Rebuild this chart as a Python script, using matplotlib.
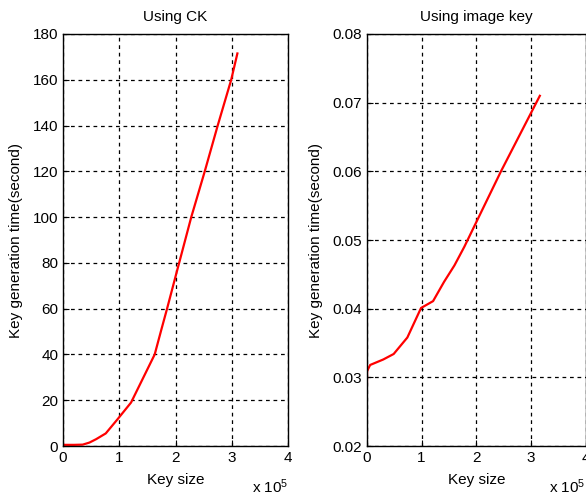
import matplotlib
matplotlib.use('Agg')
from matplotlib import pyplot as plt

matplotlib.rc('font', **{'family': 'sans-serif', 'sans-serif': ['Liberation Sans', 'DejaVu Sans']})
matplotlib.rcParams['mathtext.fontset'] = 'custom'
matplotlib.rcParams['mathtext.rm'] = 'Liberation Sans'
matplotlib.rcParams['mathtext.it'] = 'Liberation Sans'

# key size in units of 1e5
ck_size = [0, 0.05, 0.1, 0.2, 0.35, 0.47, 0.59, 0.76, 0.97, 1.21, 1.41, 1.63, 1.75, 1.85, 2.0, 2.28, 2.52, 2.75, 2.99, 3.10]
ck_time = [0.5, 0.5, 0.5, 0.5, 0.6, 1.5, 3.0, 5.5, 11.7, 19.0, 29.0, 40.0, 51.0, 60.0, 74.0, 100.0, 120.0, 140.0, 160.0, 171.5]

img_size = [0, 0.005, 0.06, 0.3, 0.49, 0.74, 0.99, 1.21, 1.41, 1.6, 1.78, 2.45, 3.16]
img_time = [0.028, 0.0309, 0.0318, 0.0326, 0.0334, 0.0358, 0.0401, 0.0411, 0.0439, 0.0463, 0.049, 0.060, 0.071]

fs = 11
fig = plt.figure(figsize=(5.86, 4.97), dpi=100)
ax1 = fig.add_axes([0.1075, 0.1026, 0.384, 0.829])
ax2 = fig.add_axes([0.626, 0.1026, 0.3737, 0.829])


def style(ax, title):
    ax.set_xlim(0, 4)
    ax.set_xticks([0, 1, 2, 3, 4])
    ax.grid(True, color='black', linestyle=(0, (3, 3)), linewidth=0.9)
    ax.tick_params(direction='in', length=4, labelsize=fs, colors='black')
    ax.set_title(title, fontsize=fs, pad=9)
    ax.set_xlabel('Key size', fontsize=fs, labelpad=6)
    ax.set_ylabel('Key generation time(second)', fontsize=fs, labelpad=7)
    for s in ax.spines.values():
        s.set_linewidth(1.0)
    ax.text(1.0, -0.075, r'x 10$^5$', transform=ax.transAxes, ha='right', va='top', fontsize=fs)


ax1.plot(ck_size, ck_time, color='red', linewidth=1.6)
ax1.set_ylim(0, 180)
ax1.set_yticks(range(0, 181, 20))
style(ax1, 'Using CK')

ax2.plot(img_size, img_time, color='red', linewidth=1.6)
ax2.set_ylim(0.02, 0.08)
ax2.set_yticks([0.02, 0.03, 0.04, 0.05, 0.06, 0.07, 0.08])
ax2.set_yticklabels(['0.02', '0.03', '0.04', '0.05', '0.06', '0.07', '0.08'])
style(ax2, 'Using image key')

plt.savefig('out.png', dpi=100)
